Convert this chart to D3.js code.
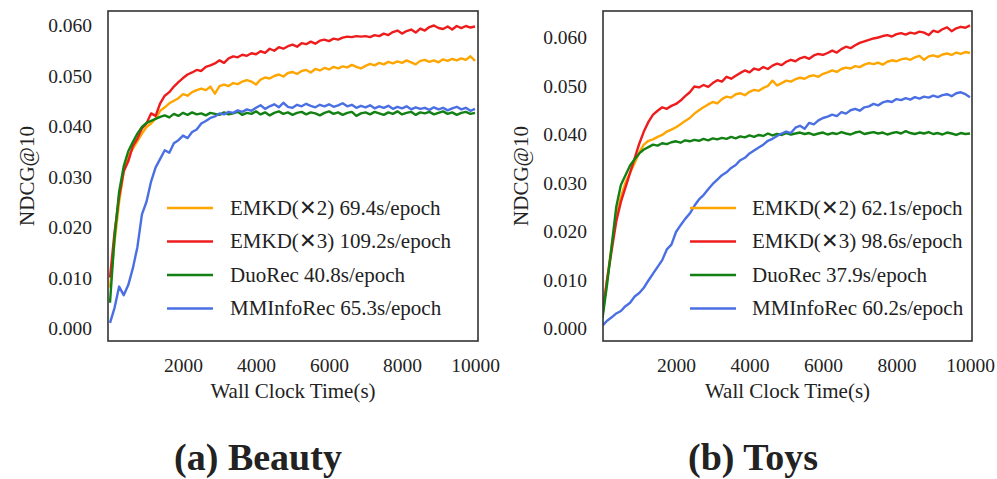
<!DOCTYPE html>
<html>
<head>
<meta charset="utf-8">
<script src="https://cdn.jsdelivr.net/npm/d3@7"></script>
<style>
  html, body { margin: 0; padding: 0; background: #fff; }
  svg { display: block; }
  text { font-family: "Liberation Serif", "Times New Roman", serif; fill: #222; }
</style>
</head>
<body>
<svg id="chart" width="997" height="479"></svg>
<script>
// ---------------- DATA ----------------
const timeStep = 125;                       // seconds between recorded points
const xTicks = [2000, 4000, 6000, 8000, 10000];
const yTicks = [0.000, 0.010, 0.020, 0.030, 0.040, 0.050, 0.060];
const seriesNames = ["EMKD(✕2)", "EMKD(✕3)", "DuoRec", "MMInfoRec"];
const seriesColors = ["#FFA500", "#EE1C1C", "#128012", "#4A6FE3"];

const beautyEpochTimes = ["69.4s/epoch", "109.2s/epoch", "40.8s/epoch", "65.3s/epoch"];
const toysEpochTimes = ["62.1s/epoch", "98.6s/epoch", "37.9s/epoch", "60.2s/epoch"];

const beautyEMKD2 = [
  0.0080, 0.0170, 0.0250, 0.0310, 0.0340, 0.0355, 0.0370, 0.0385, 0.0398, 0.0405,
  0.0415, 0.0430, 0.0437, 0.0445, 0.0450, 0.0455, 0.0463, 0.0460, 0.0467, 0.0471,
  0.0474, 0.0471, 0.0478, 0.0464, 0.0479, 0.0482, 0.0479, 0.0485, 0.0483, 0.0488,
  0.0491, 0.0488, 0.0482, 0.0492, 0.0496, 0.0494, 0.0499, 0.0502, 0.0498, 0.0505,
  0.0507, 0.0503, 0.0509, 0.0511, 0.0506, 0.0513, 0.0510, 0.0515, 0.0512, 0.0517,
  0.0514, 0.0518, 0.0516, 0.0521, 0.0517, 0.0514, 0.0519, 0.0523, 0.0520, 0.0525,
  0.0522, 0.0527, 0.0524, 0.0528, 0.0525, 0.0530, 0.0526, 0.0522, 0.0529, 0.0531,
  0.0527, 0.0530, 0.0526, 0.0532, 0.0529, 0.0533, 0.0530, 0.0534, 0.0531, 0.0538,
  0.0529
];
const beautyEMKD3 = [
  0.0100, 0.0190, 0.0260, 0.0310, 0.0330, 0.0360, 0.0375, 0.0395, 0.0405, 0.0425,
  0.0420, 0.0445, 0.0460, 0.0467, 0.0478, 0.0487, 0.0495, 0.0502, 0.0506, 0.0511,
  0.0509, 0.0517, 0.0520, 0.0524, 0.0530, 0.0525, 0.0534, 0.0538, 0.0536, 0.0541,
  0.0539, 0.0544, 0.0542, 0.0548, 0.0545, 0.0553, 0.0549, 0.0556, 0.0553, 0.0558,
  0.0561, 0.0557, 0.0564, 0.0562, 0.0567, 0.0563, 0.0569, 0.0571, 0.0568, 0.0573,
  0.0571, 0.0575, 0.0577, 0.0576, 0.0578, 0.0577, 0.0578, 0.0576, 0.0580, 0.0578,
  0.0583, 0.0580, 0.0586, 0.0589, 0.0583, 0.0588, 0.0591, 0.0585, 0.0593, 0.0589,
  0.0596, 0.0599, 0.0594, 0.0592, 0.0597, 0.0591, 0.0598, 0.0594, 0.0598, 0.0595,
  0.0597
];
const beautyDuoRec = [
  0.0050, 0.0180, 0.0270, 0.0320, 0.0350, 0.0368, 0.0385, 0.0398, 0.0406, 0.0410,
  0.0414, 0.0418, 0.0421, 0.0417, 0.0424, 0.0420, 0.0426, 0.0422, 0.0427, 0.0423,
  0.0425, 0.0421, 0.0426, 0.0424, 0.0422, 0.0427, 0.0423, 0.0425, 0.0428, 0.0422,
  0.0426, 0.0424, 0.0429, 0.0423, 0.0427, 0.0421, 0.0426, 0.0429, 0.0424, 0.0427,
  0.0422, 0.0426, 0.0428, 0.0423, 0.0427, 0.0425, 0.0421, 0.0426, 0.0429, 0.0424,
  0.0427, 0.0422, 0.0426, 0.0428, 0.0420, 0.0425, 0.0427, 0.0423, 0.0428, 0.0425,
  0.0422, 0.0427, 0.0424, 0.0429, 0.0423, 0.0426, 0.0428, 0.0422, 0.0427, 0.0425,
  0.0428, 0.0423, 0.0426, 0.0429, 0.0424, 0.0427, 0.0422, 0.0426, 0.0428, 0.0424,
  0.0426
];
const beautyMMInfoRec = [
  0.0010, 0.0040, 0.0082, 0.0065, 0.0085, 0.0118, 0.0160, 0.0225, 0.0250, 0.0290,
  0.0318, 0.0335, 0.0352, 0.0347, 0.0366, 0.0372, 0.0381, 0.0376, 0.0388, 0.0393,
  0.0405, 0.0410, 0.0416, 0.0419, 0.0425, 0.0423, 0.0428, 0.0426, 0.0431, 0.0428,
  0.0433, 0.0430, 0.0436, 0.0441, 0.0434, 0.0439, 0.0443, 0.0437, 0.0446, 0.0438,
  0.0436, 0.0442, 0.0439, 0.0444, 0.0440, 0.0437, 0.0442, 0.0439, 0.0443, 0.0438,
  0.0441, 0.0445, 0.0439, 0.0442, 0.0436, 0.0440, 0.0437, 0.0441, 0.0435, 0.0439,
  0.0436, 0.0440, 0.0434, 0.0438, 0.0435, 0.0439, 0.0433, 0.0437, 0.0434, 0.0436,
  0.0432, 0.0437, 0.0433, 0.0436, 0.0431, 0.0435, 0.0438, 0.0433, 0.0436, 0.0430,
  0.0434
];

const toysEMKD2 = [
  0.0030, 0.0100, 0.0170, 0.0230, 0.0270, 0.0300, 0.0320, 0.0340, 0.0362, 0.0378,
  0.0386, 0.0389, 0.0394, 0.0398, 0.0405, 0.0409, 0.0414, 0.0420, 0.0427, 0.0433,
  0.0442, 0.0449, 0.0455, 0.0461, 0.0466, 0.0463, 0.0472, 0.0477, 0.0475, 0.0482,
  0.0484, 0.0480, 0.0487, 0.0491, 0.0489, 0.0495, 0.0499, 0.0510, 0.0500, 0.0505,
  0.0510, 0.0508, 0.0513, 0.0516, 0.0514, 0.0519, 0.0521, 0.0518, 0.0524, 0.0527,
  0.0531, 0.0528, 0.0534, 0.0537, 0.0535, 0.0540, 0.0538, 0.0543, 0.0546, 0.0544,
  0.0547, 0.0543, 0.0549, 0.0552, 0.0550, 0.0554, 0.0556, 0.0553, 0.0558, 0.0561,
  0.0553, 0.0560, 0.0562, 0.0559, 0.0564, 0.0566, 0.0563, 0.0568, 0.0565, 0.0569,
  0.0567
];
const toysEMKD3 = [
  0.0030, 0.0100, 0.0160, 0.0220, 0.0260, 0.0290, 0.0320, 0.0350, 0.0380, 0.0405,
  0.0425, 0.0440, 0.0448, 0.0455, 0.0452, 0.0458, 0.0462, 0.0469, 0.0478, 0.0486,
  0.0498, 0.0496, 0.0501, 0.0497, 0.0505, 0.0511, 0.0508, 0.0518, 0.0514, 0.0520,
  0.0526, 0.0531, 0.0527, 0.0535, 0.0532, 0.0538, 0.0534, 0.0541, 0.0545, 0.0542,
  0.0549, 0.0553, 0.0550, 0.0556, 0.0559, 0.0555, 0.0562, 0.0565, 0.0563, 0.0567,
  0.0572, 0.0568, 0.0575, 0.0580, 0.0577, 0.0583, 0.0588, 0.0591, 0.0594, 0.0597,
  0.0599, 0.0602, 0.0604, 0.0601, 0.0606, 0.0608, 0.0605, 0.0609, 0.0607, 0.0611,
  0.0609, 0.0604, 0.0613, 0.0610, 0.0616, 0.0620, 0.0612, 0.0618, 0.0621, 0.0619,
  0.0624
];
const toysDuoRec = [
  0.0020, 0.0090, 0.0170, 0.0250, 0.0295, 0.0315, 0.0335, 0.0348, 0.0360, 0.0368,
  0.0373, 0.0378, 0.0376, 0.0381, 0.0379, 0.0383, 0.0385, 0.0382, 0.0387, 0.0385,
  0.0388, 0.0386, 0.0390, 0.0387, 0.0391, 0.0389, 0.0392, 0.0390, 0.0394, 0.0391,
  0.0395, 0.0393, 0.0397, 0.0394, 0.0398, 0.0396, 0.0401, 0.0397, 0.0400, 0.0398,
  0.0402, 0.0399, 0.0401, 0.0403, 0.0400, 0.0402, 0.0398, 0.0401, 0.0403, 0.0399,
  0.0402, 0.0400, 0.0404, 0.0401, 0.0399, 0.0403, 0.0405, 0.0400, 0.0402, 0.0404,
  0.0401, 0.0403, 0.0399, 0.0402, 0.0404, 0.0401, 0.0406, 0.0402, 0.0400, 0.0403,
  0.0401, 0.0404, 0.0400, 0.0402, 0.0399, 0.0403, 0.0401, 0.0398, 0.0402, 0.0400,
  0.0401
];
const toysMMInfoRec = [
  0.0005, 0.0015, 0.0022, 0.0030, 0.0035, 0.0045, 0.0052, 0.0065, 0.0072, 0.0083,
  0.0098, 0.0112, 0.0126, 0.0140, 0.0162, 0.0172, 0.0198, 0.0212, 0.0225, 0.0236,
  0.0252, 0.0265, 0.0274, 0.0286, 0.0297, 0.0306, 0.0315, 0.0321, 0.0330, 0.0336,
  0.0346, 0.0351, 0.0360, 0.0366, 0.0372, 0.0378, 0.0386, 0.0390, 0.0396, 0.0401,
  0.0405, 0.0402, 0.0413, 0.0417, 0.0411, 0.0423, 0.0420, 0.0428, 0.0433, 0.0436,
  0.0440, 0.0437, 0.0445, 0.0442, 0.0449, 0.0452, 0.0448, 0.0455, 0.0457, 0.0462,
  0.0459, 0.0465, 0.0468, 0.0466, 0.0472, 0.0470, 0.0474, 0.0471, 0.0476, 0.0473,
  0.0477, 0.0475, 0.0479, 0.0476, 0.0480, 0.0482, 0.0478, 0.0484, 0.0486, 0.0482,
  0.0476
];

// ---------------- LAYOUT ----------------
const panels = [
  {
    title: "(a) Beauty", titleX: 258,
    frame: {x0: 108, x1: 478, y0: 11, y1: 341},
    xRange: [110, 475], yRange: [328, 25],
    yLabelX: 34, legendLineX: [167, 213], legendTextX: 230,
    series: [beautyEMKD2, beautyEMKD3, beautyDuoRec, beautyMMInfoRec],
    epochs: beautyEpochTimes
  },
  {
    title: "(b) Toys", titleX: 753,
    frame: {x0: 603, x1: 972, y0: 11, y1: 341},
    xRange: [602.5, 970], yRange: [328, 37],
    yLabelX: 528, legendLineX: [690, 736], legendTextX: 752,
    series: [toysEMKD2, toysEMKD3, toysDuoRec, toysMMInfoRec],
    epochs: toysEpochTimes
  }
];
const legendRowsY = [208, 241.5, 275, 308.5];

const svg = d3.select("#chart");

panels.forEach((p, pi) => {
  const g = svg.append("g");
  const x = d3.scaleLinear().domain([0, 10000]).range(p.xRange);
  const y = d3.scaleLinear().domain([0, 0.06]).range(p.yRange);

  const clipId = "clip" + pi;
  svg.append("defs").append("clipPath").attr("id", clipId)
    .append("rect")
    .attr("x", p.frame.x0).attr("y", p.frame.y0)
    .attr("width", p.frame.x1 - p.frame.x0).attr("height", p.frame.y1 - p.frame.y0);

  // x axis (labels only, no tick lines)
  const xAxis = d3.axisBottom(x).tickValues(xTicks).tickSize(0).tickPadding(0)
    .tickFormat(d3.format("d"));
  const gx = g.append("g").attr("transform", `translate(0,${p.frame.y1})`).call(xAxis);
  gx.select(".domain").remove();
  gx.selectAll("text").attr("dy", null).attr("y", 31)
    .style("font-size", "19.5px").style("font-family", '"Liberation Serif", serif').attr("fill", "#222");

  // y axis
  const yAxis = d3.axisLeft(y).tickValues(yTicks).tickSize(0).tickPadding(0)
    .tickFormat(d3.format(".3f"));
  const gy = g.append("g").attr("transform", `translate(${p.frame.x0},0)`).call(yAxis);
  gy.select(".domain").remove();
  gy.selectAll("text").attr("x", -16).attr("dy", "0.34em")
    .style("font-size", "19.5px").style("font-family", '"Liberation Serif", serif').attr("fill", "#222");

  // lines
  const line = d3.line()
    .x((d, i) => x(i * timeStep))
    .y(d => y(d));
  const lg = g.append("g").attr("clip-path", `url(#${clipId})`);
  p.series.forEach((vals, si) => {
    lg.append("path")
      .datum(vals)
      .attr("d", line)
      .attr("fill", "none")
      .attr("stroke", seriesColors[si])
      .attr("stroke-width", 2.4)
      .attr("stroke-linejoin", "round");
  });

  // frame
  g.append("rect")
    .attr("x", p.frame.x0).attr("y", p.frame.y0)
    .attr("width", p.frame.x1 - p.frame.x0).attr("height", p.frame.y1 - p.frame.y0)
    .attr("fill", "none").attr("stroke", "#333").attr("stroke-width", 1.6);

  // axis titles
  g.append("text")
    .attr("x", (p.frame.x0 + p.frame.x1) / 2).attr("y", 398)
    .attr("text-anchor", "middle")
    .style("font-size", "21px")
    .text("Wall Clock Time(s)");
  g.append("text")
    .attr("transform", `translate(${p.yLabelX},${(p.frame.y0 + p.frame.y1) / 2}) rotate(-90)`)
    .attr("text-anchor", "middle")
    .style("font-size", "21px")
    .text("NDCG@10");

  // legend
  const leg = g.append("g");
  const rows = leg.selectAll("g").data(seriesNames).join("g")
    .attr("transform", (d, i) => `translate(0,${legendRowsY[i]})`);
  rows.append("line")
    .attr("x1", p.legendLineX[0]).attr("x2", p.legendLineX[1])
    .attr("y1", 0).attr("y2", 0)
    .attr("stroke", (d, i) => seriesColors[i]).attr("stroke-width", 2.6);
  rows.append("text")
    .attr("x", p.legendTextX).attr("y", 0).attr("dy", "0.33em")
    .style("font-size", "21px")
    .text((d, i) => `${d} ${p.epochs[i]}`);

  // panel title
  svg.append("text")
    .attr("x", p.titleX).attr("y", 470)
    .attr("text-anchor", "middle")
    .style("font-size", "38px").style("font-weight", "bold")
    .attr("fill", "#111")
    .text(p.title);
});
</script>
</body>
</html>
